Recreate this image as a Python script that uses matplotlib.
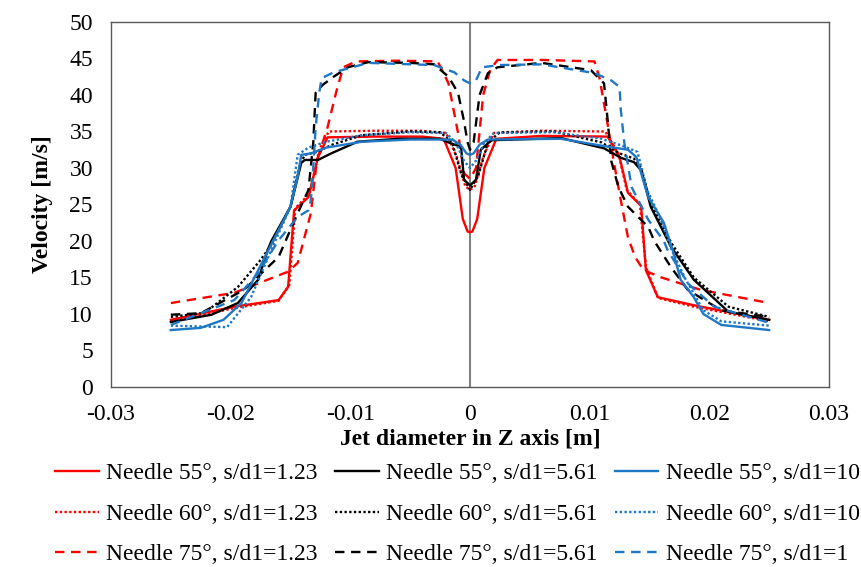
import matplotlib.pyplot as plt

plt.rcParams['font.family'] = ['Liberation Serif', 'DejaVu Serif']

# Needle 55 deg, s/d1=1.23
r55_x = [-0.025, -0.0197, -0.016, -0.0152, -0.0147, -0.0135, -0.0127, -0.0119, -0.008, -0.004, -0.0022, -0.0012, -0.0006,
         -0.0002, 0.0, 0.0002, 0.0006, 0.0012, 0.0022, 0.006, 0.0115, 0.0125, 0.0132, 0.0143, 0.0147, 0.0157, 0.0187, 0.025]
r55_v = [9.2, 11.0, 11.9, 13.7, 24.2, 26.0, 31.5, 34.2, 34.3, 34.3, 34.0, 30.0, 23.0,
         21.3, 21.2, 21.3, 23.0, 30.0, 34.0, 34.4, 34.3, 31.5, 26.6, 24.8, 16.0, 12.3, 11.2, 9.2]
# Needle 60 deg, s/d1=1.23
r60_x = [-0.025, -0.0197, -0.016, -0.0151, -0.0146, -0.0134, -0.0126, -0.0118, -0.008, -0.004, -0.002, -0.0011, -0.0004,
         0.0, 0.0004, 0.0011, 0.002, 0.006, 0.0113, 0.0124, 0.0131, 0.0142, 0.0147, 0.0157, 0.0187, 0.025]
r60_v = [9.0, 10.8, 11.8, 14.0, 24.5, 26.5, 32.5, 35.0, 35.1, 35.1, 34.8, 31.5, 27.5,
         27.0, 27.5, 31.5, 34.8, 35.1, 35.0, 32.0, 27.0, 25.0, 16.5, 12.2, 11.0, 9.0]
# Needle 75 deg, s/d1=1.23
r75_x = [-0.025, -0.0197, -0.0152, -0.0144, -0.0133, -0.0128, -0.0119, -0.0112, -0.0106, -0.0095, -0.006, -0.0027,
         -0.0018, -0.001, -0.0005, 0.0, 0.0005, 0.0011, 0.0017, 0.0023, 0.006, 0.0104, 0.0108, 0.0114, 0.012, 0.0126,
         0.0132, 0.0138, 0.0145, 0.016, 0.0193, 0.025]
r75_v = [11.5, 12.9, 15.8, 17.0, 23.8, 31.0, 35.6, 40.3, 43.8, 44.6, 44.7, 44.6,
         41.6, 34.8, 29.3, 28.5, 30.0, 40.0, 43.5, 44.8, 44.8, 44.6, 42.5, 37.0, 31.0, 25.6,
         20.5, 17.8, 16.0, 15.0, 13.3, 11.5]

# Needle 55 deg, s/d1=5.61
k55_x = [-0.025, -0.0216, -0.0194, -0.0177, -0.0169, -0.0166, -0.015, -0.0141, -0.0138, -0.0127, -0.0116, -0.0094,
         -0.006, -0.0025, -0.0018, -0.00075, -0.0005, 0.0, 0.0005, 0.0009, 0.0018, 0.0076, 0.0112, 0.0126, 0.0137,
         0.0143, 0.0151, 0.0168, 0.0187, 0.0216, 0.025]
k55_v = [8.9, 9.9, 11.5, 14.7, 18.8, 20.0, 24.7, 30.7, 31.1, 31.1, 32.0, 33.6,
         34.0, 34.0, 33.5, 32.9, 28.4, 27.6, 28.4, 32.5, 33.8, 34.1, 32.7, 31.4, 30.8,
         29.7, 24.7, 19.2, 14.7, 10.3, 9.2]
# Needle 60 deg, s/d1=5.61
k60_x = [-0.025, -0.0225, -0.0219, -0.0194, -0.0175, -0.0166, -0.015, -0.0142, -0.0138, -0.0128, -0.0115, -0.009,
         -0.005, -0.0025, -0.0015, -0.0007, 0.0, 0.0007, 0.0015, 0.0025, 0.007, 0.011, 0.0125, 0.0137, 0.0143,
         0.0151, 0.0168, 0.0187, 0.0216, 0.025]
k60_v = [9.6, 10.1, 10.5, 13.7, 17.4, 19.5, 24.7, 30.5, 31.8, 32.2, 33.2, 34.5,
         35.0, 34.9, 33.5, 29.0, 27.0, 29.0, 33.5, 34.9, 35.0, 33.5, 32.0, 31.3, 30.0,
         25.2, 19.8, 15.0, 11.0, 9.6]
# Needle 75 deg, s/d1=5.61
k75_x = [-0.025, -0.0225, -0.0189, -0.016, -0.0144, -0.0135, -0.0131, -0.0129, -0.0123, -0.0114, -0.0102, -0.0085,
         -0.005, -0.003, -0.0018, -0.001, -0.0005, -0.0002, 0.0, 0.0003, 0.0008, 0.0015, 0.0023, 0.006, 0.0101,
         0.0112, 0.0115, 0.0118, 0.0124, 0.0132, 0.0149, 0.0154, 0.0168, 0.0182, 0.021, 0.025]
k75_v = [9.9, 10.1, 13.3, 17.8, 23.8, 27.0, 33.4, 40.3, 41.4, 42.5, 43.8, 44.5,
         44.4, 44.2, 42.5, 40.3, 36.4, 33.5, 32.5, 33.5, 40.0, 43.0, 43.8, 44.4, 43.4,
         41.6, 36.6, 31.0, 27.4, 24.7, 21.9, 20.0, 16.4, 13.3, 10.5, 9.6]

# Needle 55 deg, s/d1=10
b55_x = [-0.025, -0.0225, -0.0206, -0.0191, -0.0177, -0.016, -0.015, -0.0144, -0.0141, -0.0133, -0.012, -0.009,
         -0.005, -0.0015, -0.0008, -0.0003, 0.0, 0.0003, 0.0008, 0.0015, 0.0076, 0.0112, 0.0132, 0.0139, 0.0149,
         0.0162, 0.017, 0.0176, 0.0187, 0.0195, 0.021, 0.025]
b55_v = [7.8, 8.1, 9.2, 11.5, 16.0, 21.5, 24.7, 28.8, 31.8, 32.0, 32.8, 33.6,
         33.9, 33.9, 33.2, 32.0, 31.8, 32.0, 33.2, 33.9, 34.0, 33.0, 32.5, 31.5, 26.0,
         22.5, 18.4, 14.7, 12.3, 10.0, 8.5, 7.8]
# Needle 60 deg, s/d1=10
b60_x = [-0.025, -0.0203, -0.0183, -0.0166, -0.015, -0.0144, -0.0135, -0.012, -0.009, -0.005, -0.002, -0.0012,
         -0.0005, 0.0, 0.0005, 0.0012, 0.002, 0.007, 0.011, 0.0128, 0.014, 0.0148, 0.0158, 0.0168, 0.018, 0.0195,
         0.021, 0.025]
b60_v = [8.4, 8.2, 12.3, 18.8, 24.7, 31.8, 32.8, 33.6, 34.5, 34.9, 34.8, 33.5,
         31.0, 30.0, 31.0, 33.5, 34.8, 34.9, 34.0, 33.0, 32.2, 27.0, 23.5, 19.0, 14.8, 10.5,
         9.0, 8.4]
# Needle 75 deg, s/d1=10
b75_x = [-0.025, -0.0197, -0.0177, -0.016, -0.0144, -0.0135, -0.0133, -0.0131, -0.0129, -0.0126, -0.0124, -0.0114,
         -0.0085, -0.003, -0.0013, -0.0005, 0.0, 0.0005, 0.001, 0.0025, 0.006, 0.0104, 0.0118, 0.0125, 0.0126,
         0.0129, 0.0135, 0.0149, 0.0162, 0.0165, 0.0182, 0.0204, 0.025]
b75_v = [8.5, 11.9, 15.6, 20.1, 23.3, 24.2, 25.6, 30.1, 35.6, 40.3, 42.3, 43.1,
         44.4, 44.1, 43.1, 42.0, 41.6, 42.0, 43.8, 44.1, 44.2, 43.0, 42.0, 41.1, 38.0,
         33.4, 27.4, 22.9, 20.0, 18.8, 14.2, 11.0, 8.8]

red = '#ff0000'
black = '#000000'
blue = '#1f78c4'
solid = '-'
dotted = (0, (1, 1))
dashed = (0, (4, 2.8))

fig = plt.figure(figsize=(8.62, 5.67), dpi=100)
ax = fig.add_axes([0.1288, 0.3175, 0.8329, 0.6437])

lw = 1.7
ax.plot(r55_x, r55_v, color=red, ls=solid, lw=lw, label='Needle 55°, s/d1=1.23')
ax.plot(r60_x, r60_v, color=red, ls=dotted, lw=lw, label='Needle 60°, s/d1=1.23')
ax.plot(r75_x, r75_v, color=red, ls=dashed, lw=lw, label='Needle 75°, s/d1=1.23')
ax.plot(k55_x, k55_v, color=black, ls=solid, lw=lw, label='Needle 55°, s/d1=5.61')
ax.plot(k60_x, k60_v, color=black, ls=dotted, lw=lw, label='Needle 60°, s/d1=5.61')
ax.plot(k75_x, k75_v, color=black, ls=dashed, lw=lw, label='Needle 75°, s/d1=5.61')
ax.plot(b55_x, b55_v, color=blue, ls=solid, lw=lw, label='Needle 55°, s/d1=10')
ax.plot(b60_x, b60_v, color=blue, ls=dotted, lw=lw, label='Needle 60°, s/d1=10')
ax.plot(b75_x, b75_v, color=blue, ls=dashed, lw=lw, label='Needle 75°, s/d1=1')

ax.axvline(0, color='#808080', lw=1.5, zorder=0)

ax.set_xlim(-0.03, 0.03)
ax.set_ylim(0, 50)
ax.set_xticks([-0.03, -0.02, -0.01, 0, 0.01, 0.02, 0.03])
ax.set_xticklabels(['-0.03', '-0.02', '-0.01', '0', '0.01', '0.02', '0.03'])
ax.set_yticks(range(0, 51, 5))
ax.tick_params(length=0, labelsize=17)
ax.tick_params(axis='x', pad=12)
ax.tick_params(axis='y', pad=13)
for s in ax.spines.values():
    s.set_color('#595959')
    s.set_linewidth(1.0)

ax.set_xlabel('Jet diameter in Z axis [m]', fontsize=17, fontweight='bold', labelpad=3)
ax.set_ylabel('Velocity [m/s]', fontsize=17, fontweight='bold', labelpad=12)

fig.legend(loc='upper left', bbox_to_anchor=(0.039, 0.221), ncol=3, frameon=False,
           fontsize=17, handlelength=1.85, handletextpad=0.3, columnspacing=0.75, labelspacing=0.8)

fig.savefig('out.png', dpi=100)
